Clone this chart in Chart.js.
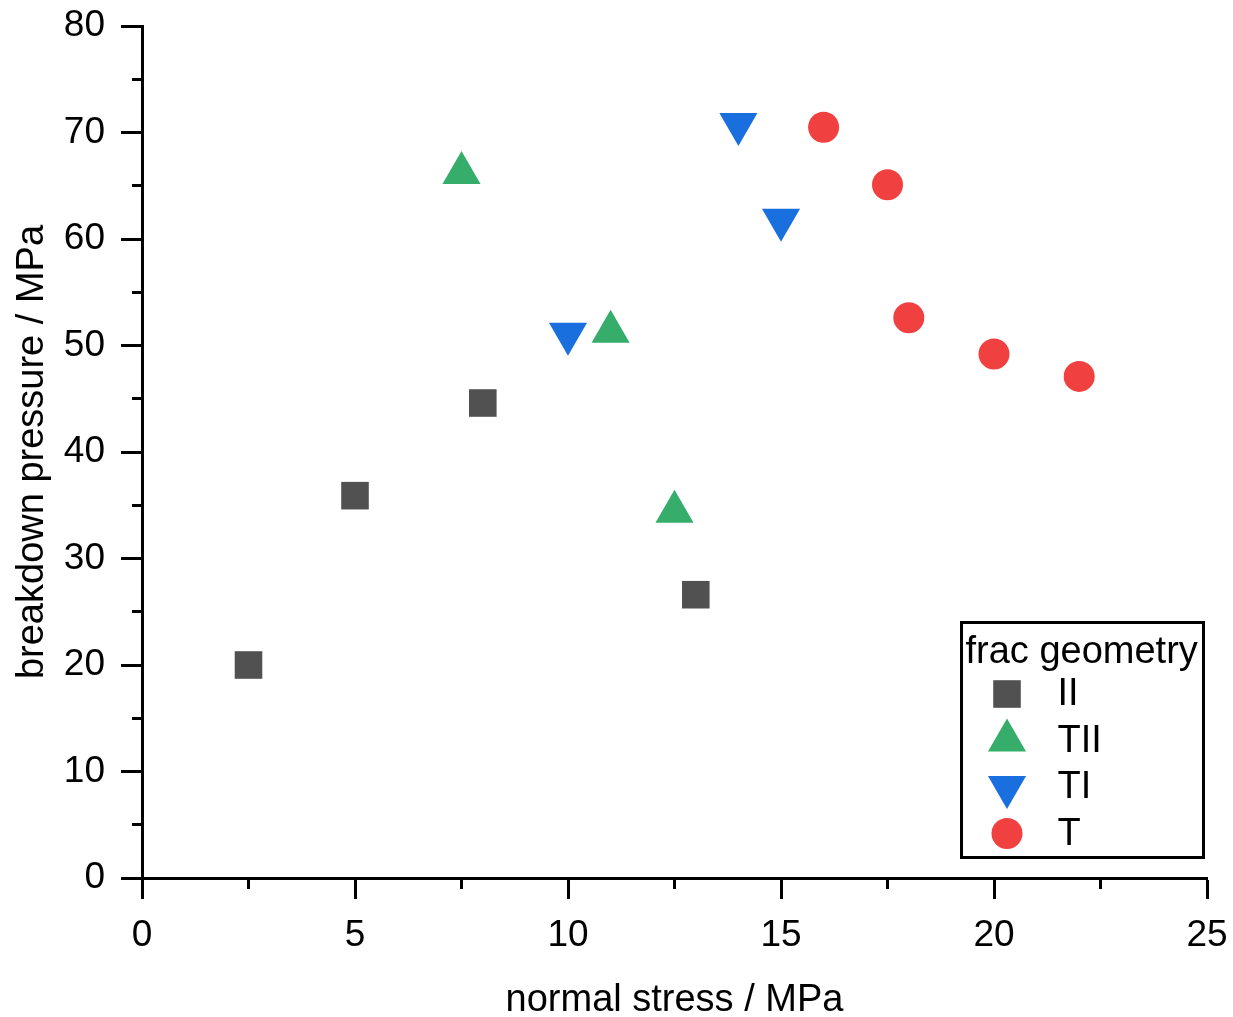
<!DOCTYPE html>
<html>
<head>
<meta charset="utf-8">
<style>
html,body{margin:0;padding:0;background:#ffffff;}
#wrap{width:1233px;height:1017px;}
</style>
<script src="https://cdn.jsdelivr.net/npm/chart.js@4.4.0/dist/chart.umd.min.js"></script>
</head>
<body>
<div id="wrap"><canvas id="c" width="1233" height="1017"></canvas></div>
<script>
// ---- data ----
const seriesNames = ['II', 'TII', 'TI', 'T'];
const legendTitle = 'frac geometry';
const xTitle = 'normal stress / MPa';
const yTitle = 'breakdown pressure / MPa';

const iiX  = [2.5, 5, 8, 13];
const iiY  = [20, 35.9, 44.6, 26.6];
const tiiX = [7.5, 11, 12.5];
const tiiY = [66.2, 51.3, 34.4];
const tiX  = [14, 15, 10];
const tiY  = [70.8, 61.8, 51.1];
const tX   = [16, 17.5, 18, 20, 22];
const tY   = [70.5, 65.1, 52.6, 49.2, 47.1];

const xMajor = [0, 5, 10, 15, 20, 25];
const xMinor = [2.5, 7.5, 12.5, 17.5, 22.5];
const yMajor = [0, 10, 20, 30, 40, 50, 60, 70, 80];
const yMinor = [5, 15, 25, 35, 45, 55, 65, 75];

const colors = ['#515151', '#37AD6B', '#1A6FDF', '#F14040'];

function pts(xs, ys) { return xs.map((x, i) => ({x: x, y: ys[i]})); }

const FONT = "'Liberation Sans', Arial, Helvetica, sans-serif";
Chart.defaults.font.family = FONT;
Chart.defaults.color = '#000';

const styles = [
  {pointStyle: 'rect', radius: 19.5, rotation: 0},
  {pointStyle: 'triangle', radius: 22, rotation: 0},
  {pointStyle: 'triangle', radius: 22, rotation: 180},
  {pointStyle: 'circle', radius: 15.5, rotation: 0}
];
const dataSets = [pts(iiX, iiY), pts(tiiX, tiiY), pts(tiX, tiY), pts(tX, tY)];

const datasets = seriesNames.map((name, i) => ({
  label: name,
  data: dataSets[i],
  showLine: false,
  pointStyle: styles[i].pointStyle,
  pointRadius: styles[i].radius,
  pointHoverRadius: styles[i].radius,
  pointRotation: styles[i].rotation,
  pointBackgroundColor: colors[i],
  pointBorderColor: colors[i],
  pointBorderWidth: 0,
  pointHoverBorderWidth: 0
}));

// minor ticks drawn via the library's scales
const minorTicks = {
  id: 'minorTicks',
  afterDraw(chart) {
    const {ctx, chartArea: a, scales: {x, y}} = chart;
    ctx.save();
    ctx.strokeStyle = '#000';
    ctx.lineWidth = 3;
    ctx.lineCap = 'butt';
    xMinor.forEach(v => {
      const px = Math.round(x.getPixelForValue(v) - 1.5) + 1.5;
      ctx.beginPath(); ctx.moveTo(px, a.bottom); ctx.lineTo(px, a.bottom + 11); ctx.stroke();
    });
    yMinor.forEach(v => {
      const py = Math.round(y.getPixelForValue(v) - 1.5) + 1.5;
      ctx.beginPath(); ctx.moveTo(a.left, py); ctx.lineTo(a.left - 10, py); ctx.stroke();
    });
    ctx.restore();
  }
};

function drawMarker(ctx, st, color, cx, cy) {
  ctx.save();
  ctx.fillStyle = color;
  ctx.strokeStyle = color;
  if (Chart.helpers && Chart.helpers.drawPoint) {
    Chart.helpers.drawPoint(ctx, {pointStyle: st.pointStyle, radius: st.radius, rotation: st.rotation, borderWidth: 0}, cx, cy);
  } else {
    ctx.beginPath();
    ctx.arc(cx, cy, st.radius, 0, Math.PI * 2);
    ctx.fill();
  }
  ctx.restore();
}

const boxLegend = {
  id: 'boxLegend',
  afterDraw(chart) {
    const ctx = chart.ctx;
    const a = chart.chartArea;
    const L = a.right - 245.5, T = a.bottom - 255.5, W = 242, H = 235;
    ctx.save();
    ctx.fillStyle = '#fff';
    ctx.fillRect(L, T, W, H);
    ctx.strokeStyle = '#000';
    ctx.lineWidth = 3;
    ctx.strokeRect(L, T, W, H);
    ctx.fillStyle = '#000';
    ctx.font = '38px ' + FONT;
    ctx.textAlign = 'left';
    ctx.textBaseline = 'alphabetic';
    ctx.fillText(legendTitle, L + 4, T + 40);
    const rowY0 = T + 71.5, rowStep = 46.5;
    chart.data.datasets.forEach((ds, i) => {
      const cy = rowY0 + i * rowStep;
      drawMarker(ctx, styles[i], ds.pointBackgroundColor, L + 45.5, cy);
      ctx.fillStyle = '#000';
      ctx.textBaseline = 'middle';
      ctx.fillText(ds.label, L + 96, cy + 1);
    });
    ctx.restore();
  }
};

function zeroPad(s) { s.paddingTop = 0; s.paddingBottom = 0; s.paddingLeft = 0; s.paddingRight = 0; }

new Chart(document.getElementById('c'), {
  type: 'scatter',
  data: {datasets: datasets},
  options: {
    responsive: false,
    animation: false,
    devicePixelRatio: 1,
    layout: {padding: {top: 26, right: 26, left: 0, bottom: 0}},
    plugins: {legend: {display: false}, tooltip: {enabled: false}},
    scales: {
      x: {
        type: 'linear', position: 'bottom', min: 0, max: 25,
        afterBuildTicks: s => { s.ticks = xMajor.map(v => ({value: v})); },
        afterFit: s => { s.height = 139; zeroPad(s); },
        ticks: {font: {size: 37}, color: '#000', padding: 15, maxRotation: 0, autoSkip: false},
        grid: {drawOnChartArea: false, tickLength: 21, tickWidth: 3, tickColor: '#000'},
        border: {display: true, width: 3, color: '#000'},
        title: {display: true, text: xTitle, font: {size: 38}, color: '#000', padding: {top: 0, bottom: -6}}
      },
      y: {
        type: 'linear', position: 'left', min: 0, max: 80,
        afterBuildTicks: s => { s.ticks = yMajor.map(v => ({value: v})); },
        afterFit: s => { s.width = 142; zeroPad(s); },
        ticks: {font: {size: 37}, color: '#000', padding: 16, autoSkip: false},
        grid: {drawOnChartArea: false, tickLength: 21, tickWidth: 3, tickColor: '#000'},
        border: {display: true, width: 3, color: '#000'},
        title: {display: true, text: yTitle, font: {size: 38}, color: '#000', padding: {top: 10, bottom: 0}}
      }
    }
  },
  plugins: [minorTicks, boxLegend]
});
</script>
</body>
</html>
